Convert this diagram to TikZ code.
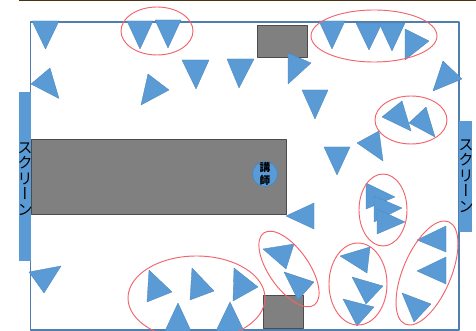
\documentclass[tikz,border=0pt]{standalone}
\usepackage{fontspec}
\newfontfamily\cjk[RawFeature=+vert]{Noto Sans CJK JP}
\definecolor{seatblue}{HTML}{5B9BD5}
\definecolor{seatedge}{HTML}{4A86BE}
\definecolor{roomline}{HTML}{4F7FAE}
\definecolor{ringred}{HTML}{F2636B}
\definecolor{topbrown}{HTML}{4A3214}
\begin{document}
\begin{tikzpicture}[x=0.75pt,y=-0.75pt,line cap=round,line join=round,
  seat/.style={fill=seatblue,draw=seatedge,line width=0.25pt},
  block/.style={fill=black!50,draw=black!70,line width=0.6pt},
  ring/.style={draw=ringred,line width=0.7pt},
  screenbar/.style={fill=seatblue,draw=none},
  screenlabel/.style={font=\cjk\fontsize{11.5}{11.7}\selectfont,align=center,inner sep=0pt}]
  \useasboundingbox (0,0) rectangle (476,331);
  \fill[white] (0,0) rectangle (476,331);
  \fill[topbrown] (19,0) rectangle (476,1);
  % room
  \draw[roomline,line width=0.9pt] (30.5,22) -- (459,22) -- (459,330) -- (30.5,330) -- cycle;
  \fill[screenbar] (18.5,92) rectangle (31,261);
  \fill[screenbar] (459,121) rectangle (472,232);
  \draw[block] (31,139.5) rectangle (286,214);
  \draw[block] (257,25) rectangle (307,57);
  \draw[block] (263,295) rectangle (303,328);
  \node[screenlabel] (screenL) at (25,179) {ス\\ク\\リ\\ー\\ン};
  \node[screenlabel] (screenR) at (466,176) {ス\\ク\\リ\\ー\\ン};
  \node[circle,fill=seatblue,draw=seatedge,line width=0.5pt,minimum size=18.75pt,inner sep=0pt,
    font=\cjk\bfseries\fontsize{8}{9.5}\selectfont,align=center] (teacher) at (265,174) {講\\師};
  % seats
  \foreach \ax/\ay/\bx/\by/\cx/\cy in {
    32/21/59/21/45.5/49, 31/84/50/68/59/98.5, 127/21/153/21/140/49,
    155/20/181/20/168/48, 148/74/169/90/141/105, 182/60/209/60/196/89,
    227/59/254/59/239/88, 288/53/311/63/288/84, 302/90/328/90/315/119,
    319/21/345/21/332/49, 356/23/382/23/369/50, 379/23/405/23/392/51,
    405/29/429/41/405/60, 443/61/462/79/433/91, 402/101/411/131/382/117,
    426/107/435/137/409/123, 379/131/383/161/357/143, 324/147/350/147/337/175,
    314/203/314/229/286/216, 366/183/395/197/366/209, 374/196/402/208/374/222,
    377/209/405/222/377/234, 263/249/294/244/286/269, 284/272/314/282/298/300,
    340/256/370/247/367/273, 352/277/383/286/366/304, 343/299/374/307/357/326,
    446/226/446/252/417/240, 446/257/446/284/417/271, 402/293/431/304/414/322,
    29/272/61/266/44/293, 149/270/172/292/147/302, 192/268/214/291/190/300,
    234/268/258/287/233/301, 178/303/165/331/191/331, 230/302/216/331/244/331}
    \draw[seat] (\ax,\ay) -- (\bx,\by) -- (\cx,\cy) -- cycle;
  % groups
  \draw[ring] (157,31) ellipse [x radius=36,y radius=24];
  \draw[ring] (374,36) ellipse [x radius=63,y radius=26];
  \draw[ring] (411,120) ellipse [x radius=36,y radius=24];
  \draw[ring] (383,210) ellipse [x radius=24,y radius=36];
  \draw[ring] (358,284) ellipse [x radius=29,y radius=41];
  \draw[ring,rotate around={-55:(289,269)}] (289,269) ellipse [x radius=44,y radius=20];
  \draw[ring,rotate around={67:(427,273)}] (427,273) ellipse [x radius=55.6,y radius=24];
  \draw[ring] (196.5,298) ellipse [x radius=68.5,y radius=42];
\end{tikzpicture}
\end{document}
